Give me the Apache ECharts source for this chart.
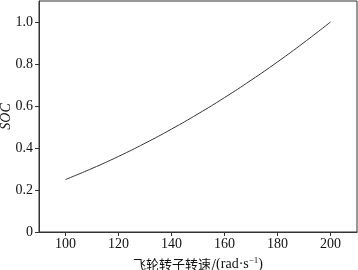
<!DOCTYPE html>
<html><head><meta charset="utf-8">
<script src="https://cdn.jsdelivr.net/npm/echarts@6/dist/echarts.min.js"></script>
<style>html,body{margin:0;padding:0;background:#fff}#c{width:358px;height:270px}</style>
</head><body><div id="c"></div>
<script>
const speeds = [100, 110, 120, 130, 140, 150, 160, 170, 180, 190, 200];
const soc = [0.25, 0.3025, 0.36, 0.4225, 0.49, 0.5625, 0.64, 0.7225, 0.81, 0.9025, 1.0];
const xTicks = [100, 120, 140, 160, 180, 200];
const yTicks = [0, 0.2, 0.4, 0.6, 0.8, 1.0];
const xNameCn = '飞轮转子转速/';
const xNameUnit = '(rad·s';
const yName = 'SOC';

const chart = echarts.init(document.getElementById('c'));
const serif = '"Liberation Serif","DejaVu Serif",serif';
chart.setOption({
  animation: false,
  grid: {left: 39, right: 1, top: 1, bottom: 38, show: true, borderColor: '#333', borderWidth: 1,
    containLabel: false, outerBoundsMode: 'none'},
  xAxis: {
    type: 'value', min: 90, max: 210,
    axisLine: {lineStyle: {color: '#333', width: 1}},
    axisTick: {inside: false, length: 4, lineStyle: {color: '#333'}, customValues: xTicks},
    axisLabel: {color: '#111', fontFamily: serif, fontSize: 14, margin: 5, customValues: xTicks},
    splitLine: {show: false},
    name: '{a|' + xNameCn + '}{c|' + xNameUnit + '}{b|−1}{c|)}', nameLocation: 'middle', nameGap: 24,
    nameMoveOverlap: false,
    nameTextStyle: {rich: {
      a: {fontFamily: '"Noto Sans CJK SC",' + serif, fontSize: 13, color: '#111'},
      c: {fontFamily: serif, fontSize: 14, color: '#111'},
      b: {fontFamily: serif, fontSize: 9, color: '#111', verticalAlign: 'top', padding: [0,0,7,0]}
    }}
  },
  yAxis: {
    type: 'value', min: 0, max: 1.1,
    axisLine: {lineStyle: {color: '#333', width: 1}},
    axisTick: {inside: false, length: 4, lineStyle: {color: '#333'}, customValues: yTicks},
    axisLabel: {color: '#111', fontFamily: serif, fontSize: 14, margin: 6, customValues: yTicks,
      formatter: v => (Math.abs(v) < 1e-9 ? '0' : v.toFixed(1))},
    splitLine: {show: false},
    name: yName, nameLocation: 'middle', nameGap: 26, nameMoveOverlap: false,
    nameTextStyle: {fontFamily: serif, fontStyle: 'italic', fontSize: 14, color: '#111'}
  },
  series: [{
    type: 'line', data: speeds.map((s, i) => [s, soc[i]]),
    smooth: true, showSymbol: false,
    lineStyle: {color: '#333', width: 1}
  }]
});
</script></body></html>
